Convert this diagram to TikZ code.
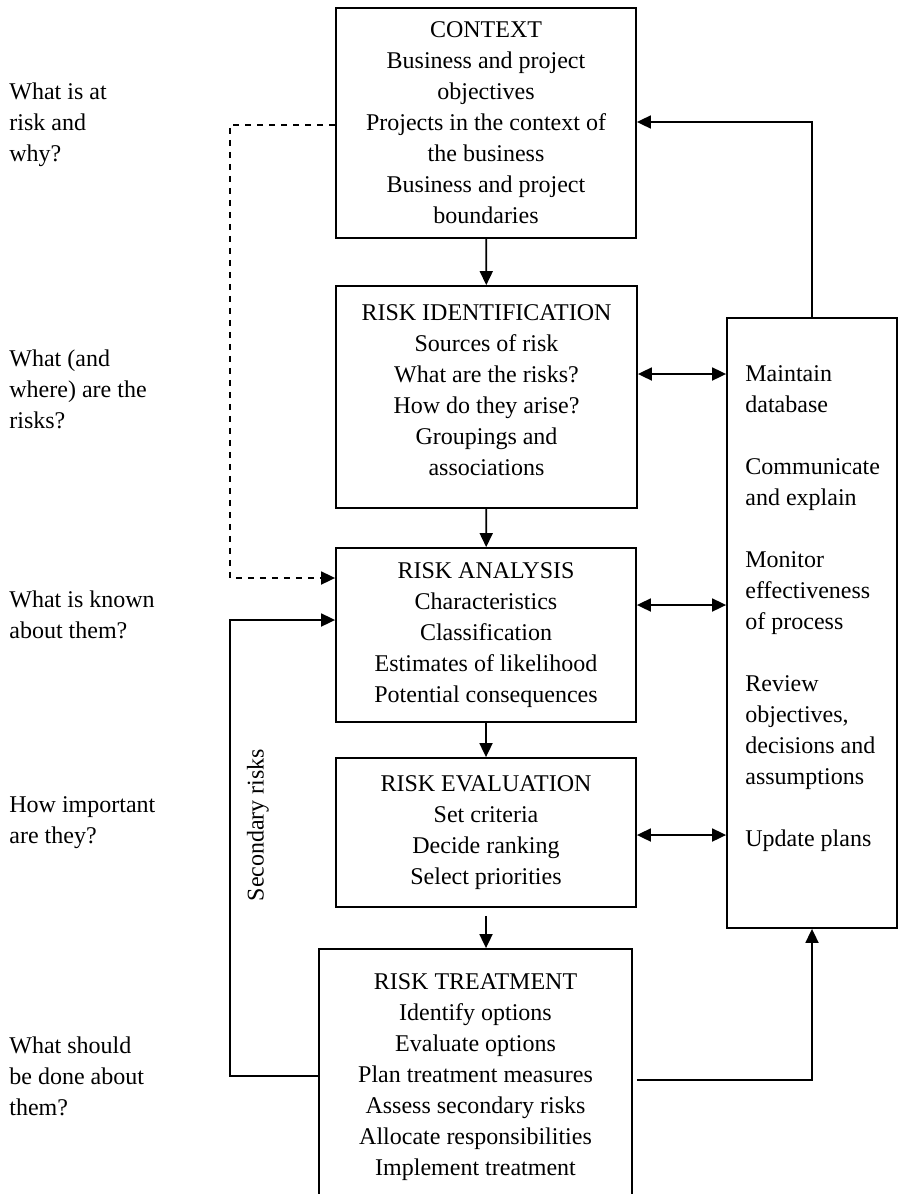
\documentclass[tikz,border=0pt]{standalone}
\usepackage{fontspec}
\setmainfont{Liberation Serif}
\usetikzlibrary{arrows.meta,positioning,calc}
\tikzset{
  box/.style={draw, line width=0.9pt, align=center, inner sep=0pt, font=\fontsize{12}{15.5}\selectfont},
  lab/.style={align=left, inner sep=0pt, anchor=west, font=\fontsize{12}{15.5}\selectfont},
  arr/.style={line width=0.9pt, -{Triangle[length=7pt,width=6.5pt]}},
  dbl/.style={line width=0.9pt, {Triangle[length=7pt,width=6.5pt]}-{Triangle[length=7pt,width=6.5pt]}}
}
\begin{document}
\begin{tikzpicture}[x=0.5pt, y=-0.5pt]
\useasboundingbox (0,0) rectangle (899,1194);
% process boxes
\node[box, minimum width=150pt, minimum height=115pt] (ctx) at (486,123)
  {CONTEXT\\Business and project\\objectives\\Projects in the context of\\the business\\Business and project\\boundaries};
\node[box, minimum width=150.5pt, minimum height=111pt, text depth=7pt] (idf) at (486.5,397)
  {RISK IDENTIFICATION\\Sources of risk\\What are the risks?\\How do they arise?\\Groupings and\\associations};
\node[box, minimum width=150pt, minimum height=87pt] (ana) at (486,635)
  {RISK ANALYSIS\\Characteristics\\Classification\\Estimates of likelihood\\Potential consequences};
\node[box, minimum width=150pt, minimum height=74.5pt] (evl) at (486,832.5)
  {RISK EVALUATION\\Set criteria\\Decide ranking\\Select priorities};
\node[box, minimum width=156.5pt, minimum height=128pt] (trt) at (475.5,1077)
  {RISK TREATMENT\\Identify options\\Evaluate options\\Plan treatment measures\\Assess secondary risks\\Allocate responsibilities\\Implement treatment};
% monitoring box
\node[box, minimum width=85pt, minimum height=305pt] (mon) at (812,623) {};
\node[lab, anchor=north west] (montxt) at (745,365)
  {Maintain\\database\\[15.5pt]Communicate\\and explain\\[15.5pt]Monitor\\effectiveness\\of process\\[15.5pt]Review\\objectives,\\decisions and\\assumptions\\[15.5pt]Update plans};
% questions
\node[lab] (q1) at (9,125) {What is at\\risk and\\why?};
\node[lab] (q2) at (9,389) {What (and\\where) are the\\risks?};
\node[lab] (q3) at (9,615) {What is known\\about them?};
\node[lab] (q4) at (9,823) {How important\\are they?};
\node[lab] (q5) at (9,1076) {What should\\be done about\\them?};
% main flow
\draw[arr] (ctx) -- (idf);
\draw[arr] (idf) -- (ana);
\draw[arr] (ana) -- (evl);
\draw[arr] ([yshift=-4pt]evl.south) -- (evl.south |- trt.north);
% links to monitoring
\draw[dbl] (idf.east |- 0,374) -- (mon.west |- 0,374);
\draw[dbl] (ana.east |- 0,605) -- (mon.west |- 0,605);
\draw[dbl] (evl.east |- 0,835) -- (mon.west |- 0,835);
\draw[arr] (mon.north) |- (ctx.east |- 0,122);
\draw[arr] ([xshift=2pt]trt.east |- 0,1080) -| (mon.south);
% feedback on the left
\coordinate (dsh) at (230,125);
\coordinate (sec) at (230,620);
\draw[arr, dashed] (ctx.west |- dsh) -- (dsh) -- (dsh |- 0,578) -- (ana.west |- 0,578);
\draw[arr] (trt.west |- 0,1076) -| (sec) -- (ana.west |- sec);
\node[rotate=90, font=\fontsize{12}{15.5}\selectfont] (srl) at (258,825) {Secondary risks};
\end{tikzpicture}
\end{document}
